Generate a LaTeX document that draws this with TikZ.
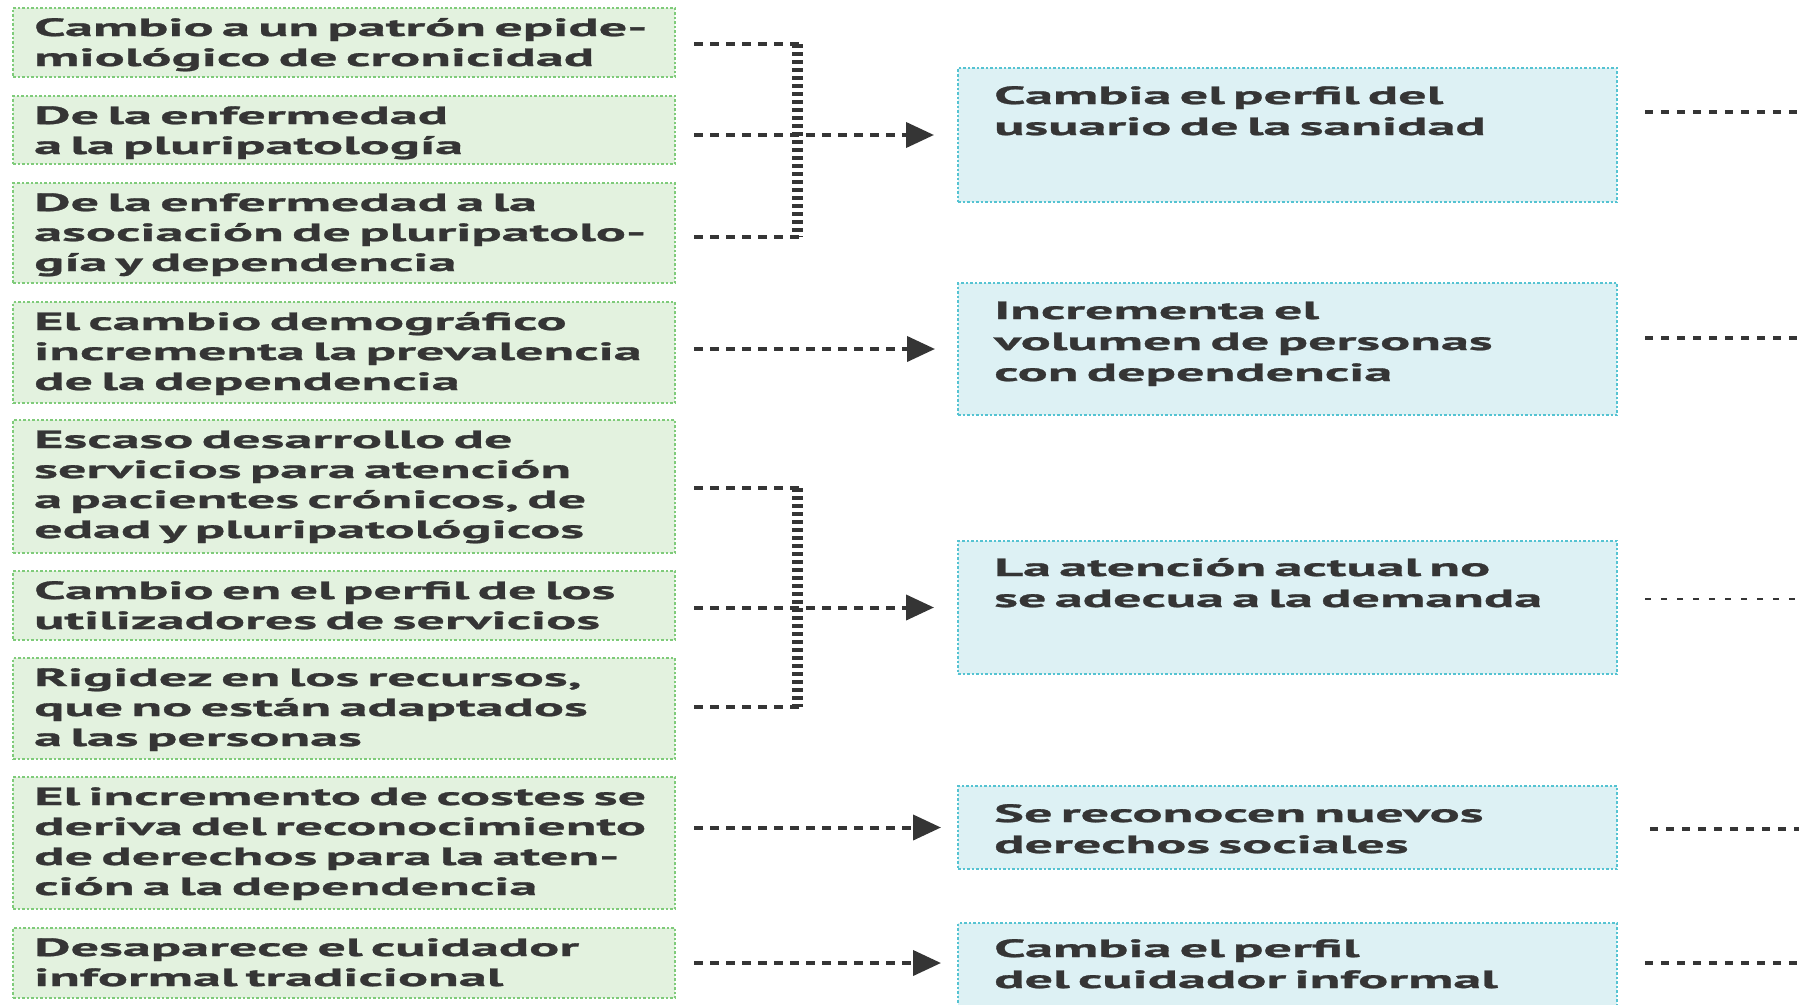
\documentclass[tikz,border=0pt]{standalone}
\usepackage{fontspec}
\setmainfont{PT Sans}
\newfontfamily\bxfont{PT Sans}[FakeStretch=2.25, FakeBold=1.2]
\usetikzlibrary{arrows.meta}
\definecolor{gfill}{HTML}{E3F2DF}
\definecolor{gline}{HTML}{7FCB7A}
\definecolor{bfill}{HTML}{DDF1F4}
\definecolor{bline}{HTML}{55C3D2}
\definecolor{ink}{HTML}{353535}
\begin{document}
\begin{tikzpicture}[x=1pt,y=-1pt,
  gbox/.style={draw=gline, fill=gfill, line width=2.5pt, dash pattern=on 2.5pt off 2pt,
    anchor=north west, minimum width=662pt, inner sep=0pt, outer sep=0pt},
  bbox/.style={draw=bline, fill=bfill, line width=2.5pt, dash pattern=on 2.5pt off 2pt,
    anchor=north west, minimum width=659pt, inner sep=0pt, outer sep=0pt},
  gtxt/.style={anchor=base west, inner sep=0pt, text width=645pt, align=left,
    font=\bxfont\bfseries\fontsize{25}{30}\selectfont, text=ink},
  btxt/.style={anchor=base west, inner sep=0pt, text width=620pt, align=left,
    font=\bxfont\bfseries\fontsize{25}{31}\selectfont, text=ink},
  hdot/.style={draw=ink, line width=4pt, dash pattern=on 9pt off 7pt},
  vdot/.style={draw=ink, line width=11pt, dash pattern=on 4pt off 4pt},
  rdot/.style={draw=ink, line width=4pt, dash pattern=on 8pt off 8pt},
  rthin/.style={draw=ink, line width=2.5pt, dash pattern=on 6pt off 10pt},
  arr/.style={hdot, -{Triangle[length=28pt,width=25pt]}},
]
\useasboundingbox (0,0) rectangle (1799,1004);

% left boxes
\node[gbox, minimum height=69pt]  (g1) at (13,8)   {};
\node[gbox, minimum height=68pt]  (g2) at (13,96)  {};
\node[gbox, minimum height=100pt] (g3) at (13,183) {};
\node[gbox, minimum height=101pt] (g4) at (13,302) {};
\node[gbox, minimum height=133pt] (g5) at (13,420) {};
\node[gbox, minimum height=69pt]  (g6) at (13,571) {};
\node[gbox, minimum height=101pt] (g7) at (13,658) {};
\node[gbox, minimum height=132pt] (g8) at (13,777) {};
\node[gbox, minimum height=70pt]  (g9) at (13,928) {};

\node[gtxt] (g1t) at ([xshift=21pt,yshift=-28pt]g1.north west) {Cambio a un patrón epide-\\miológico de cronicidad};
\node[gtxt] (g2t) at ([xshift=21pt,yshift=-28pt]g2.north west) {De la enfermedad\\a la pluripatología};
\node[gtxt] (g3t) at ([xshift=21pt,yshift=-28pt]g3.north west) {De la enfermedad a la\\asociación de pluripatolo-\\gía y dependencia};
\node[gtxt] (g4t) at ([xshift=21pt,yshift=-28pt]g4.north west) {El cambio demográfico\\incrementa la prevalencia\\de la dependencia};
\node[gtxt] (g5t) at ([xshift=21pt,yshift=-28pt]g5.north west) {Escaso desarrollo de\\servicios para atención\\a pacientes crónicos, de\\edad y pluripatológicos};
\node[gtxt] (g6t) at ([xshift=21pt,yshift=-28pt]g6.north west) {Cambio en el perfil de los\\utilizadores de servicios};
\node[gtxt] (g7t) at ([xshift=21pt,yshift=-28pt]g7.north west) {Rigidez en los recursos,\\que no están adaptados\\a las personas};
\node[gtxt] (g8t) at ([xshift=21pt,yshift=-28pt]g8.north west) {El incremento de costes se\\deriva del reconocimiento\\de derechos para la aten-\\ción a la dependencia};
\node[gtxt] (g9t) at ([xshift=21pt,yshift=-28pt]g9.north west) {Desaparece el cuidador\\informal tradicional};

% right boxes
\node[bbox, minimum height=134pt] (b1) at (958,68)  {};
\node[bbox, minimum height=132pt] (b2) at (958,283) {};
\node[bbox, minimum height=133pt] (b3) at (958,541) {};
\node[bbox, minimum height=83pt]  (b4) at (958,786) {};
\node[bbox, minimum height=90pt]  (b5) at (958,923) {};

\node[btxt] (b1t) at ([xshift=36pt,yshift=-36pt]b1.north west) {Cambia el perfil del\\usuario de la sanidad};
\node[btxt] (b2t) at ([xshift=36pt,yshift=-36pt]b2.north west) {Incrementa el\\volumen de personas\\con dependencia};
\node[btxt] (b3t) at ([xshift=36pt,yshift=-35pt]b3.north west) {La atención actual no\\se adecua a la demanda};
\node[btxt] (b4t) at ([xshift=36pt,yshift=-36pt]b4.north west) {Se reconocen nuevos\\derechos sociales};
\node[btxt] (b5t) at ([xshift=36pt,yshift=-34pt]b5.north west) {Cambia el perfil\\del cuidador informal};

% group 1
\coordinate (j1t) at (797,44);
\coordinate (j1b) at (797,237);
\draw[hdot, shorten <=19pt] (g1.east |- j1t) -- ([xshift=6pt]j1t);
\draw[hdot, shorten <=19pt] (g3.east |- j1b) -- ([xshift=6pt]j1b);
\draw[vdot] (j1t) -- (j1b);
\draw[arr, shorten <=19pt, shorten >=24pt] (g2.east |- b1.west) -- (b1.west);

% row 4
\draw[arr, shorten <=19pt, shorten >=23pt] (g4.east |- b2.west) -- (b2.west);

% group 2
\coordinate (j2t) at (797,488);
\coordinate (j2b) at (797,707);
\draw[hdot, shorten <=19pt] (g5.east |- j2t) -- ([xshift=6pt]j2t);
\draw[hdot, shorten <=19pt] (g7.east |- j2b) -- ([xshift=6pt]j2b);
\draw[vdot] (j2t) -- (j2b);
\draw[arr, shorten <=19pt, shorten >=24pt] (g6.east |- b3.west) -- (b3.west);

% rows 8, 9
\draw[arr, shorten <=19pt, shorten >=17pt] (g8.east |- b4.west) -- (b4.west);
\draw[arr, shorten <=19pt, shorten >=17pt] (g9.east) -- (g9.east -| b5.west);

% right stubs
\coordinate (r1) at (1799,112);
\coordinate (r2) at (1799,338);
\coordinate (r3) at (1799,599);
\coordinate (r4) at (1799,829);
\coordinate (r5) at (1799,963);
\draw[rdot, shorten <=28pt] (b1.east |- r1) -- (r1);
\draw[rdot, shorten <=28pt] (b2.east |- r2) -- (r2);
\draw[rthin, shorten <=28pt] (b3.east |- r3) -- (r3);
\draw[rdot, shorten <=33pt] (b4.east |- r4) -- (r4);
\draw[rdot, shorten <=28pt] (b5.east |- r5) -- (r5);
\end{tikzpicture}
\end{document}
